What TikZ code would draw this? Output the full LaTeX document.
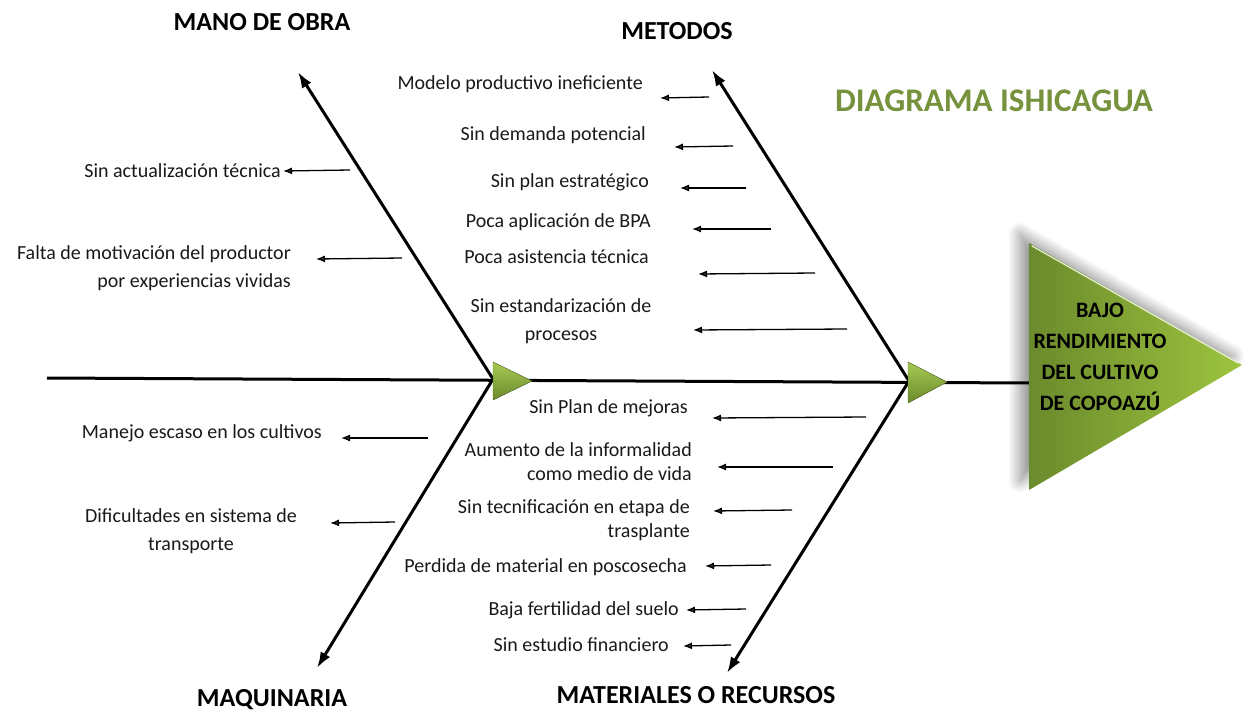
\documentclass[tikz,border=0pt]{standalone}
\usepackage{fontspec}
\setmainfont{Carlito}
\usetikzlibrary{arrows.meta}
\usetikzlibrary{shadows.blur}
\usetikzlibrary{positioning}
\definecolor{olive}{HTML}{76923C}
\definecolor{leafdark}{HTML}{6B8A2C}
\definecolor{leaflight}{HTML}{9DC43F}

\tikzset{
  cause/.style={font=\fontsize{20}{28}\selectfont, inner sep=0pt, text=black!90},
  causer/.style={cause, anchor=east, align=right},
  causec/.style={cause, align=center},
  branch/.style={font=\bfseries\fontsize{26}{30}\selectfont, inner sep=0pt},
  bone/.style={line width=3pt, -{Latex[length=16pt,width=11pt]}},
  sub/.style={line width=1.3pt, -{Latex[length=9pt,width=7pt]}},
  joint/.style={top color=leaflight!90!white, bottom color=leafdark, draw=leafdark!80!black, line width=0.4pt},
}

\begin{document}
\begin{tikzpicture}[x=1pt, y=-1pt]
    \useasboundingbox (0,0) rectangle (1244,712);

    % Spine and joints
    \coordinate (tail) at (47,378);
    \coordinate (head) at (1030,383);
    \coordinate (jl) at (493,379);
    \coordinate (jr) at (909,381);
    \draw[line width=3pt] (tail) -- (head);

    % Main bones
    \coordinate (obratip) at (298,72);
    \coordinate (metotip) at (712,70);
    \coordinate (maqtip) at (317,668);
    \coordinate (mattip) at (727,673);
    \draw[bone] (jl) -- (obratip);
    \draw[bone] (jl) -- (maqtip);
    \draw[bone] (jr) -- (metotip);
    \draw[bone] (jr) -- (mattip);

    \filldraw[joint] (493,362) -- (493,400) -- (532,381) -- cycle;
    \filldraw[joint] (908,362) -- (908,403) -- (947,382) -- cycle;

    % Effect
    \path[blur shadow={shadow xshift=-9pt, shadow yshift=9pt, shadow blur radius=12pt, shadow blur steps=20, shadow opacity=45},
          left color=leafdark, right color=leaflight]
      (1029,243) -- (1242,365) -- (1029,490) -- cycle;
    \draw[white!75!leaflight, line width=1.2pt, line cap=round] (1032,246) -- (1238,363);
    \node[font=\bfseries\fontsize{22}{31}\selectfont, align=center, inner sep=0pt] (effect)
      at (1100,357) {BAJO\\RENDIMIENTO\\DEL CULTIVO\\DE COPOAZÚ};

    % Title
    \node[font=\bfseries\fontsize{33}{36}\selectfont, text=olive, inner sep=0pt] (title) at (994,101) {DIAGRAMA ISHICAGUA};

    % Branch names
    \node[branch] (obra) at (262,22) {MANO DE OBRA};
    \node[branch] (metodos) at (677,31) {METODOS};
    \node[branch] (maq) at (272,700) {MAQUINARIA};
    \node[branch] (mat) at (696,695) {MATERIALES O RECURSOS};

    % Mano de obra
    \node[causer] (o1) at (281,171) {Sin actualización técnica};
    \node[causer] (o2) at (291,268) {Falta de motivación del productor\\por experiencias vividas};
    \coordinate (o1s) at (350,170);
    \coordinate (o1e) at (283,171);
    \coordinate (o2s) at (402,258);
    \coordinate (o2e) at (316,259);
    \draw[sub] (o1s) -- (o1e);
    \draw[sub] (o2s) -- (o2e);

    % Metodos
    \node[causer] (m1) at (643,84) {Modelo productivo ineficiente};
    \node[causer] (m2) at (646,135) {Sin demanda potencial};
    \node[causer] (m3) at (649,182) {Sin plan estratégico};
    \node[causer] (m4) at (651,222) {Poca aplicación de BPA};
    \node[causer] (m5) at (649,257) {Poca asistencia técnica};
    \node[causec] (m6) at (561,321) {Sin estandarización de\\procesos};
    \coordinate (m1s) at (709,97);
    \coordinate (m1e) at (660,98);
    \coordinate (m2s) at (733,146);
    \coordinate (m2e) at (674,147);
    \coordinate (m3s) at (746,188);
    \coordinate (m3e) at (680,188);
    \coordinate (m4s) at (771,229);
    \coordinate (m4e) at (692,229);
    \coordinate (m5s) at (815,273);
    \coordinate (m5e) at (698,274);
    \coordinate (m6s) at (847,329);
    \coordinate (m6e) at (693,330);
    \draw[sub] (m1s) -- (m1e);
    \draw[sub] (m2s) -- (m2e);
    \draw[sub] (m3s) -- (m3e);
    \draw[sub] (m4s) -- (m4e);
    \draw[sub] (m5s) -- (m5e);
    \draw[sub] (m6s) -- (m6e);

    % Materiales o recursos
    \node[causer] (r1) at (688,408) {Sin Plan de mejoras};
    \node[causer, font=\fontsize{20}{24}\selectfont] (r2) at (692,462) {Aumento de la informalidad\\como medio de vida};
    \node[causer, font=\fontsize{20}{24}\selectfont] (r3) at (690,520) {Sin tecnificación en etapa de\\trasplante};
    \node[causer] (r4) at (687,567) {Perdida de material en poscosecha};
    \node[causer] (r5) at (679,610) {Baja fertilidad del suelo};
    \node[causer] (r6) at (669,645) {Sin estudio financiero};
    \coordinate (r1s) at (866,417);
    \coordinate (r1e) at (712,418);
    \coordinate (r2s) at (833,467);
    \coordinate (r2e) at (717,467);
    \coordinate (r3s) at (792,510);
    \coordinate (r3e) at (713,511);
    \coordinate (r4s) at (771,565);
    \coordinate (r4e) at (705,566);
    \coordinate (r5s) at (746,609);
    \coordinate (r5e) at (686,610);
    \coordinate (r6s) at (731,645);
    \coordinate (r6e) at (683,646);
    \draw[sub] (r1s) -- (r1e);
    \draw[sub] (r2s) -- (r2e);
    \draw[sub] (r3s) -- (r3e);
    \draw[sub] (r4s) -- (r4e);
    \draw[sub] (r5s) -- (r5e);
    \draw[sub] (r6s) -- (r6e);

    % Maquinaria
    \node[causer] (q1) at (322,433) {Manejo escaso en los cultivos};
    \node[causec] (q2) at (191,531) {Dificultades en sistema de\\transporte};
    \coordinate (q1s) at (428,438);
    \coordinate (q1e) at (341,438);
    \coordinate (q2s) at (395,522);
    \coordinate (q2e) at (330,523);
    \draw[sub] (q1s) -- (q1e);
    \draw[sub] (q2s) -- (q2e);
\end{tikzpicture}
\end{document}
